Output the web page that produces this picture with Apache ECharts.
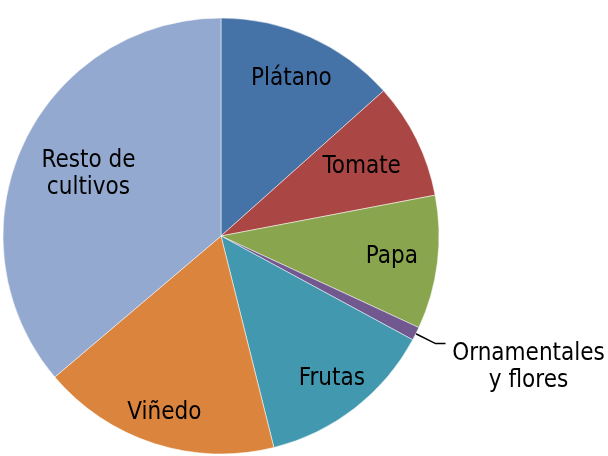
<!DOCTYPE html>
<html>
<head>
<meta charset="utf-8">
<script src="https://cdn.jsdelivr.net/npm/echarts@6/dist/echarts.min.js"></script>
<style>
  html, body { margin: 0; padding: 0; background: #fff; overflow: hidden; }
  #container { width: 608px; height: 456px; }
</style>
</head>
<body>
<div id="container"></div>
<script>
//datos del gráfico (% de superficie)
var categorias = ['Plátano', 'Tomate', 'Papa', 'Ornamentales y flores', 'Frutas', 'Viñedo', 'Resto de cultivos'];
var valores = [13.4, 8.6, 9.9, 1.0, 13.2, 17.7, 36.2];
var etiquetas = ['Plátano', 'Tomate', 'Papa', 'Ornamentales\ny flores', 'Frutas', 'Viñedo', 'Resto de\ncultivos'];

//estilos
var colores = ['#4572A7', '#AA4643', '#89A54E', '#71588F', '#4198AF', '#DB843D', '#93A9CF'];
var distEtiqueta = [0.79, 0.72, 0.79, null, 0.83, 0.85, 0.67]; //fracción del radio
var fuente = '"DejaVu Sans Condensed", "Noto Sans", sans-serif';
var CX = 221, CY = 236, R = 218;

var dom = document.getElementById('container');
var myChart = echarts.init(dom, null, { renderer: 'canvas' });

//ángulo medio de cada sector
var total = valores.reduce(function (a, b) { return a + b; }, 0);
var acum = 0;
var medio = valores.map(function (v) {
  var m = (acum + v / 2) / total * 2 * Math.PI;
  acum += v;
  return m;
});

var myData = categorias.map(function (c, i) {
  var item = { name: c, value: valores[i], itemStyle: { color: colores[i] } };
  if (distEtiqueta[i] == null) {
    item.label = {
      position: 'outside',
      formatter: '{o|Ornamentales}\n{o|y flores}',
      padding: [48, 0, 0, 0],
      distanceToLabelLine: 7,
      rich: {
        o: { width: 152, align: 'center', lineHeight: 27, fontSize: 24, fontFamily: fuente, color: '#000' }
      }
    };
    item.labelLine = { show: true, length: 22, length2: 10, lineStyle: { color: '#000', width: 1.5 } };
  } else {
    item.label = { formatter: etiquetas[i] };
  }
  return item;
});

var option = {
  animation: false,
  series: [{
    type: 'pie',
    center: [CX, CY],
    radius: R,
    startAngle: 90,
    clockwise: true,
    avoidLabelOverlap: false,
    itemStyle: { borderColor: '#fff', borderWidth: 0.5 },
    label: {
      show: true,
      position: 'inside',
      color: '#000',
      fontSize: 24,
      lineHeight: 27,
      fontFamily: fuente
    },
    labelLine: { show: false },
    emphasis: { disabled: true },
    labelLayout: function (p) {
      var f = distEtiqueta[p.dataIndex];
      if (f == null) return {};
      var r = p.labelRect;
      var lx = r.x + r.width / 2, ly = r.y + r.height / 2;
      var tx = CX + f * R * Math.sin(medio[p.dataIndex]);
      var ty = CY - f * R * Math.cos(medio[p.dataIndex]);
      return { dx: tx - lx, dy: ty - ly };
    },
    data: myData
  }]
};

myChart.setOption(option);
</script>
</body>
</html>
